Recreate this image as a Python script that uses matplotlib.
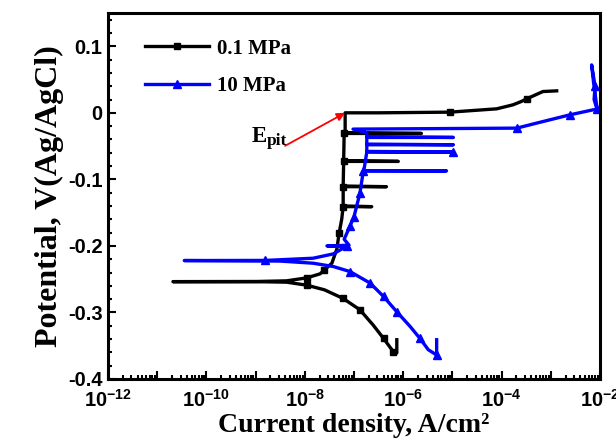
import numpy as np
import matplotlib
matplotlib.use("Agg")
import matplotlib.pyplot as plt
from matplotlib.ticker import LogLocator, FuncFormatter, MultipleLocator, NullFormatter

plt.rcParams["mathtext.fontset"] = "custom"
plt.rcParams["mathtext.bf"] = "Liberation Sans:bold"
plt.rcParams["mathtext.rm"] = "Liberation Sans:bold"
plt.rcParams["mathtext.default"] = "bf"

# 0.1 MPa polarization curve: log10(current density), potential
black_logi = [-6.13, -6.13, -6.20, -6.40, -6.61, -6.88, -7.22, -7.60, -7.96, -8.37, -9.00, -10.68,
              -9.00, -8.37, -7.96, -7.69, -7.60, -7.45, -7.35, -7.30, -7.25, -7.22,
              -6.64, -7.22, -7.22, -6.34, -7.22, -7.21, -6.10, -7.21, -7.20, -5.63, -7.18, -7.18,
              -6.50, -5.05, -4.10, -3.77, -3.60, -3.49, -3.16, -2.88]
black_v = [-0.341, -0.361, -0.359, -0.339, -0.319, -0.296, -0.279, -0.266, -0.259, -0.2545, -0.2537, -0.2537,
           -0.2535, -0.2525, -0.248, -0.242, -0.236, -0.226, -0.205, -0.180, -0.160, -0.141,
           -0.141, -0.140, -0.111, -0.111, -0.110, -0.073, -0.073, -0.072, -0.031, -0.031, -0.030, 0.0,
           0.0, 0.001, 0.006, 0.012, 0.017, 0.021, 0.032, 0.033]
black_marks = [2, 3, 5, 6, 8, 14, 16, 19, 21, 24, 27, 30, 35, 39]

# 10 MPa polarization curve
blue_logi = [-5.32, -5.32, -5.49, -5.66, -5.86, -6.13, -6.40, -6.67, -7.08, -7.42, -7.83, -8.50, -10.45,
             -8.80, -7.83, -7.42, -7.15, -7.55, -7.10, -7.20, -7.08, -7.00, -6.88, -6.81,
             -5.12, -6.80, -6.74, -4.98, -6.74, -6.74, -4.98, -6.74, -6.74, -4.98, -6.74, -6.74, -7.02,
             -3.69, -3.29, -2.61, -2.14, -2.06, -2.12, -2.10, -2.17, -2.13, -2.07]
blue_v = [-0.341, -0.364, -0.356, -0.339, -0.321, -0.299, -0.276, -0.256, -0.2386, -0.231, -0.226, -0.2228, -0.222,
          -0.2218, -0.2185, -0.212, -0.2005, -0.200, -0.199, -0.190, -0.170, -0.156, -0.121, -0.0872,
          -0.0872, -0.0870, -0.059, -0.059, -0.058, -0.048, -0.048, -0.047, -0.037, -0.037, -0.036, -0.030, -0.0245,
          -0.023, -0.0155, -0.003, 0.0045, 0.005, 0.020, 0.040, 0.072, 0.045, 0.012]
blue_marks = [1, 3, 5, 6, 7, 8, 13, 16, 20, 21, 22, 23, 27, 37, 39, 41, 43]

fig = plt.figure(figsize=(6.16, 4.45), dpi=100)
ax = fig.add_axes([108 / 616, 1 - 379 / 445, 492 / 616, 366 / 445])

ax.plot(10 ** np.array(black_logi), black_v, color="black", lw=2.4, marker="s", ms=5,
        markevery=black_marks, label="0.1 MPa")
ax.plot(10 ** np.array(blue_logi), blue_v, color="#0000ff", lw=2.4, marker="^", ms=6,
        markevery=blue_marks, label="10 MPa")

ax.set_xscale("log")
ax.set_xlim(1e-12, 1e-2)
ax.set_ylim(-0.4, 0.15)

ax.xaxis.set_major_locator(LogLocator(base=10, numticks=20))
ax.xaxis.set_minor_locator(LogLocator(base=10, subs=np.arange(2, 10), numticks=100))
ax.xaxis.set_minor_formatter(NullFormatter())


def fmt(x, pos):
    e = int(round(np.log10(x)))
    if e % 2:
        return ""
    return r"$\mathbf{10^{%d}}$" % e


ax.xaxis.set_major_formatter(FuncFormatter(fmt))
ax.yaxis.set_major_locator(MultipleLocator(0.1))
ax.yaxis.set_minor_locator(MultipleLocator(0.02))
ax.yaxis.set_major_formatter(FuncFormatter(lambda v, p: "0" if abs(v) < 1e-9 else "%.1f" % v))

ax.tick_params(which="both", direction="in", top=False, right=False, width=1.5)
ax.tick_params(which="major", length=6)
ax.tick_params(which="minor", length=3)
ax.tick_params(axis="x", labelsize=14.5, pad=7)
ax.tick_params(axis="y", labelsize=14.5, pad=4)
for lab in ax.get_yticklabels() + ax.get_xticklabels():
    lab.set_fontfamily("Liberation Sans")
    lab.set_fontweight("bold")
for s in ax.spines.values():
    s.set_linewidth(2.2)

ax.set_xlabel("Current density, A/cm²", family="Liberation Serif", weight="bold", fontsize=20, labelpad=2)
ax.set_ylabel("Potential, V(Ag/AgCl)", family="Liberation Serif", weight="bold", fontsize=23, labelpad=3)

ax.annotate("", xy=(10 ** -7.18, 0.0), xytext=(10 ** -8.40, -0.0496),
            arrowprops=dict(arrowstyle="-|>", color="red", lw=1.3, mutation_scale=12, shrinkA=0, shrinkB=0))
ax.text(10 ** -8.77, -0.0436, "E", family="Liberation Serif", weight="bold", fontsize=16.5, ha="right", va="baseline")
ax.text(10 ** -8.77, -0.0485, "pit", family="Liberation Serif", weight="bold", fontsize=12.5, ha="left", va="baseline")

ax.legend(loc="upper left", bbox_to_anchor=(0.075, 0.93), frameon=False, borderaxespad=0, borderpad=0,
          handlelength=3.1, handletextpad=0.35, labelspacing=0.85,
          prop={"family": "Liberation Serif", "weight": "bold", "size": 15})

fig.savefig("out.png", dpi=100)
